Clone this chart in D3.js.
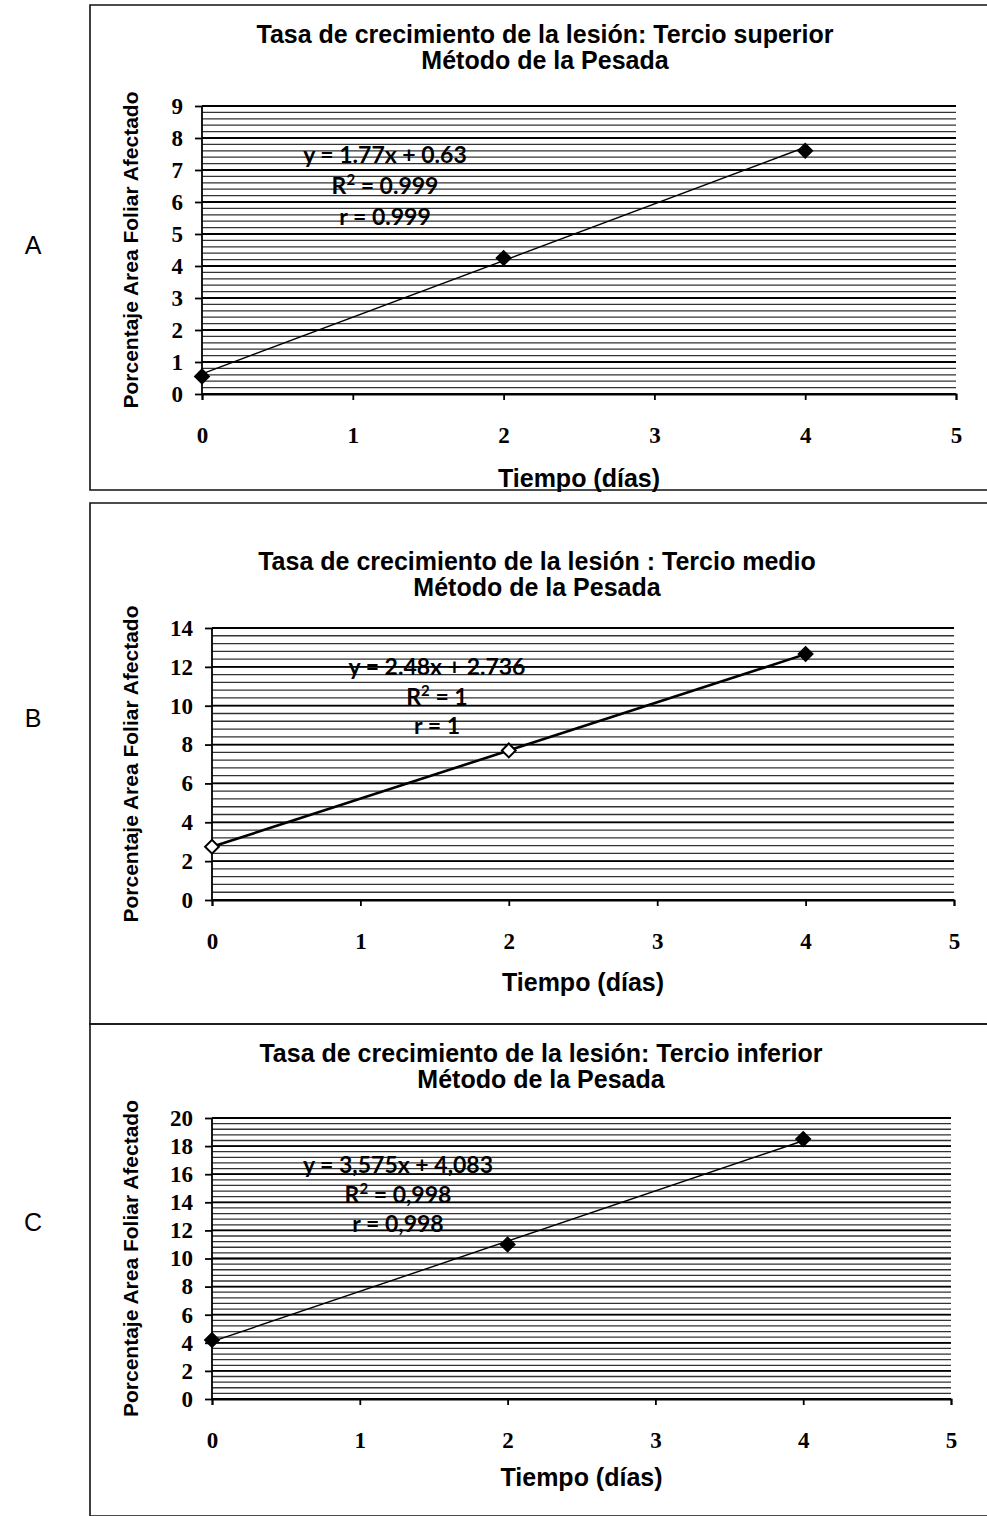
<!DOCTYPE html>
<html>
<head>
<meta charset="utf-8">
<script src="https://cdn.jsdelivr.net/npm/d3@7"></script>
<style>
	body { margin: 0; background: #fff; }
</style>
</head>
<body>
<div id="chart"></div>
<script>
//datos
var diasMuestreo = [0, 2, 4];
var areaSuperior = [0.55, 4.25, 7.6];
var areaMedio = [2.74, 7.7, 12.66];
var areaInferior = [4.2, 11.0, 18.5];

var xTicks = [0, 1, 2, 3, 4, 5];
var yMaximos = [9, 14, 20];
var yPasos = [1, 2, 2];

var titulos = [
	"Tasa de crecimiento de la lesión: Tercio superior",
	"Tasa de crecimiento de la lesión : Tercio medio",
	"Tasa de crecimiento de la lesión: Tercio inferior"
];
var subtitulo = "Método de la Pesada";
var letras = ["A", "B", "C"];

var pendientes = [1.77, 2.48, 3.575];
var interceptos = [0.63, 2.736, 4.083];
var ecuaciones = ["y = 1.77x + 0.63", "y = 2.48x + 2.736", "y = 3,575x + 4,083"];
var valoresR2 = ["0.999", "1", "0,998"];
var valoresR = ["0.999", "1", "0,998"];

var tituloX = "Tiempo (días)";
var tituloY = "Porcentaje Area Foliar Afectado";

//layout de cada panel (pixeles)
var paneles = [
	{ serie: areaSuperior, caja: [5, 490], plot: { left: 202, right: 956, top: 106, bottom: 394 },
	  tituloY1: 34, tituloX0: 545, eqX: 385, eqY: [49, 80, 111], tituloXY: 478, letraY: 245, grosor: 1.4, huecos: [] },
	{ serie: areaMedio, caja: [503, 1024], plot: { left: 212, right: 954, top: 628, bottom: 900 },
	  tituloY1: 561, tituloX0: 537, eqX: 437, eqY: [39, 69, 98], tituloXY: 982, letraY: 718, grosor: 2.6, huecos: [0, 1] },
	{ serie: areaInferior, caja: [1024, 1516], plot: { left: 212, right: 951, top: 1118, bottom: 1399 },
	  tituloY1: 1053, tituloX0: 541, eqX: 398, eqY: [47, 77, 106], tituloXY: 1477, letraY: 1222, grosor: 1.4, huecos: [] }
];

var W = 987, H = 1516;

var svg = d3.select("#chart").append("svg")
	.attr("width", W)
	.attr("height", H)
	.style("font-family", "'Liberation Sans', Arial, sans-serif");

paneles.forEach(function(p, i){
	drawPanel(p, i);
});

function drawPanel(p, i){
	var g = svg.append("g");

	//caja del panel
	g.append("path")
		.attr("d", "M" + (W + 2) + "," + p.caja[0] + "H90V" + p.caja[1] + "H" + (W + 2))
		.attr("fill", "none")
		.attr("stroke", "#111")
		.attr("stroke-width", 1.6);

	//letra del panel
	g.append("text")
		.attr("x", 33).attr("y", p.letraY + 9)
		.attr("text-anchor", "middle")
		.style("font-size", "25px")
		.text(letras[i]);

	//titulos
	g.append("text")
		.attr("x", p.tituloX0).attr("y", p.tituloY1 + 9)
		.attr("text-anchor", "middle")
		.style("font-size", "25px").style("font-weight", "bold")
		.text(titulos[i]);
	g.append("text")
		.attr("x", p.tituloX0).attr("y", p.tituloY1 + 35)
		.attr("text-anchor", "middle")
		.style("font-size", "25px").style("font-weight", "bold")
		.text(subtitulo);

	//escalas
	var x = d3.scaleLinear().domain([0, 5]).range([p.plot.left, p.plot.right]);
	var y = d3.scaleLinear().domain([0, yMaximos[i]]).range([p.plot.bottom, p.plot.top]);

	var paso = yPasos[i];
	var menor = paso / 5;
	var nMenor = Math.round(yMaximos[i] / menor);
	var lineasMenores = d3.range(0, nMenor + 1).map(function(k){ return k * menor; });
	var yTicks = d3.range(0, yMaximos[i] / paso + 1).map(function(k){ return k * paso; });

	//lineas de division menores
	g.append("g").selectAll("line")
		.data(lineasMenores)
		.join("line")
		.attr("x1", p.plot.left).attr("x2", p.plot.right)
		.attr("y1", function(d){ return y(d); })
		.attr("y2", function(d){ return y(d); })
		.attr("stroke", "#333")
		.attr("stroke-width", 1.3);

	//lineas principales
	g.append("g").selectAll("line")
		.data(yTicks)
		.join("line")
		.attr("x1", p.plot.left).attr("x2", p.plot.right)
		.attr("y1", function(d){ return y(d); })
		.attr("y2", function(d){ return y(d); })
		.attr("stroke", "#000")
		.attr("stroke-width", 1.8);

	//ejes
	var ejeY = d3.axisLeft(y).tickValues(yTicks).tickSize(7).tickPadding(12).tickFormat(d3.format("d"));
	var ejeX = d3.axisBottom(x).tickValues(xTicks).tickSize(6).tickPadding(27).tickFormat(d3.format("d"));

	var gy = g.append("g")
		.attr("transform", "translate(" + p.plot.left + ",0)")
		.call(ejeY);
	var gx = g.append("g")
		.attr("transform", "translate(0," + p.plot.bottom + ")")
		.call(ejeX);

	[gx, gy].forEach(function(a){
		a.selectAll("path, line").attr("stroke", "#000").attr("stroke-width", 1.8);
		a.selectAll("text")
			.style("font-family", "'Liberation Serif', 'DejaVu Serif', serif")
			.style("font-weight", "bold")
			.style("font-size", "23px")
			.attr("fill", "#000");
	});
	gy.select(".domain").attr("d", "M0," + p.plot.bottom + "V" + p.plot.top);

	//linea de tendencia
	var xFin = d3.max(diasMuestreo);
	g.append("line")
		.attr("x1", x(0)).attr("y1", y(interceptos[i]))
		.attr("x2", x(xFin)).attr("y2", y(interceptos[i] + pendientes[i] * xFin))
		.attr("stroke", "#000")
		.attr("stroke-width", p.grosor);

	//marcadores (rombo tipo Excel: cuadrado girado 45 grados)
	var rombo = d3.symbol().type(d3.symbolSquare).size(95);
	g.append("g").selectAll("path")
		.data(diasMuestreo)
		.join("path")
		.attr("d", rombo)
		.attr("transform", function(d, k){ return "translate(" + x(d) + "," + y(p.serie[k]) + ") rotate(45)"; })
		.attr("fill", function(d, k){ return p.huecos.indexOf(k) >= 0 ? "#fff" : "#000"; })
		.attr("stroke", "#000")
		.attr("stroke-width", 2);

	//ecuacion
	var eq = g.append("g")
		.style("font-family", "Lato, 'Open Sans', sans-serif")
		.style("font-weight", "bold")
		.style("font-size", "23px")
		.attr("text-anchor", "middle");
	eq.append("text")
		.attr("x", p.eqX).attr("y", p.plot.top + p.eqY[0] + 8)
		.text(ecuaciones[i]);
	var r2 = eq.append("text")
		.attr("x", p.eqX).attr("y", p.plot.top + p.eqY[1] + 8);
	r2.append("tspan").text("R");
	r2.append("tspan").attr("dy", -9).style("font-size", "15px").text("2");
	r2.append("tspan").attr("dy", 9).text(" = " + valoresR2[i]);
	eq.append("text")
		.attr("x", p.eqX).attr("y", p.plot.top + p.eqY[2] + 8)
		.text("r = " + valoresR[i]);

	//titulos de ejes
	g.append("text")
		.attr("x", (p.plot.left + p.plot.right) / 2)
		.attr("y", p.tituloXY + 9)
		.attr("text-anchor", "middle")
		.style("font-size", "25px").style("font-weight", "bold")
		.text(tituloX);
	g.append("text")
		.attr("transform", "translate(138," + ((p.plot.top + p.plot.bottom) / 2) + ") rotate(-90)")
		.attr("text-anchor", "middle")
		.style("font-size", "21px").style("font-weight", "bold")
		.text(tituloY);
}
</script>
</body>
</html>
